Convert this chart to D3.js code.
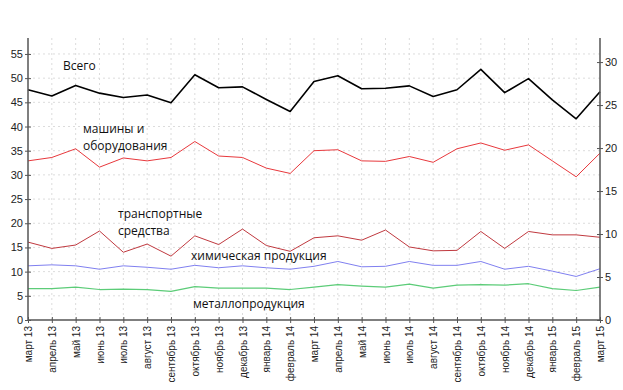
<!DOCTYPE html>
<html>
<head>
<meta charset="utf-8">
<script src="https://cdn.jsdelivr.net/npm/d3@7"></script>
<style>
  body { margin: 0; background: #fff; }
  svg text { font-family: "DejaVu Sans", sans-serif; }
  .lbl { font-family: "Open Sans", sans-serif; font-size: 12px; fill: #111; }
</style>
</head>
<body>
<div id="chart"></div>
<script>
// Months (March 2013 - March 2015)
const months = ['март 13', 'апрель 13', 'май 13', 'июнь 13', 'июль 13', 'август 13', 'сентябрь 13',
  'октябрь 13', 'ноябрь 13', 'декабрь 13', 'январь 14', 'февраль 14', 'март 14', 'апрель 14', 'май 14',
  'июнь 14', 'июль 14', 'август 14', 'сентябрь 14', 'октябрь 14', 'ноябрь 14', 'декабрь 14',
  'январь 15', 'февраль 15', 'март 15'];

const total = [47.6, 46.3, 48.5, 46.9, 46.0, 46.5, 44.9, 50.7, 48.0, 48.2, 45.6, 43.1, 49.3,
  50.5, 47.8, 47.9, 48.4, 46.2, 47.6, 51.8, 47.0, 49.9, 45.5, 41.6, 47.2];
const machines = [32.9, 33.6, 35.4, 31.6, 33.5, 32.9, 33.6, 36.9, 33.9, 33.6, 31.4, 30.3, 35.0,
  35.2, 32.9, 32.8, 33.8, 32.6, 35.4, 36.6, 35.1, 36.2, 32.9, 29.6, 34.5];
const transport = [16.1, 14.8, 15.5, 18.4, 14.0, 15.7, 13.2, 17.4, 15.6, 18.8, 15.4, 14.2, 17.0,
  17.4, 16.5, 18.6, 15.1, 14.3, 14.4, 18.3, 14.8, 18.3, 17.6, 17.6, 17.1];
const chemical = [11.2, 11.4, 11.2, 10.5, 11.2, 10.9, 10.5, 11.3, 10.8, 11.2, 10.8, 10.5, 11.1,
  12.1, 11.0, 11.1, 12.1, 11.3, 11.3, 12.1, 10.5, 11.1, 10.1, 9.0, 10.6];
const metal = [6.5, 6.5, 6.8, 6.3, 6.4, 6.3, 5.9, 6.9, 6.6, 6.6, 6.6, 6.3, 6.8,
  7.3, 7.0, 6.8, 7.4, 6.6, 7.2, 7.3, 7.2, 7.5, 6.5, 6.1, 6.8];

const leftTicks = [0, 5, 10, 15, 20, 25, 30, 35, 40, 45, 50, 55];
const rightTicks = [0, 5, 10, 15, 20, 25, 30];

const series = [
  { name: 'Всего', values: total, color: '#000000', width: 1.6 },
  { name: 'машины и оборудования', values: machines, color: '#e8383c', width: 1 },
  { name: 'транспортные средства', values: transport, color: '#c0393f', width: 1 },
  { name: 'химическая продукция', values: chemical, color: '#8080f0', width: 1 },
  { name: 'металлопродукция', values: metal, color: '#5ccc78', width: 1.2 }
];

const labels = [
  { lines: ['Всего'], x: 63, y: 70 },
  { lines: ['машины и', 'оборудования'], x: 83, y: 133 },
  { lines: ['транспортные', 'средства'], x: 118, y: 218 },
  { lines: ['химическая продукция'], x: 191, y: 260 },
  { lines: ['металлопродукция'], x: 193, y: 308 }
];

const width = 623, height = 390;
const plot = { left: 28, right: 600, top: 38, bottom: 320 };

const svg = d3.select('#chart').append('svg')
  .attr('width', width)
  .attr('height', height);

const x = d3.scalePoint()
  .domain(months)
  .range([plot.left, plot.right]);

const y = d3.scaleLinear()
  .domain([0, 58.3])
  .range([plot.bottom, plot.top]);

const y2 = d3.scaleLinear()
  .domain([0, 32.8])
  .range([plot.bottom, plot.top]);

// Grid
svg.append('g')
  .selectAll('line')
  .data(months.slice(1, -1))
  .enter().append('line')
  .attr('x1', d => x(d)).attr('x2', d => x(d))
  .attr('y1', plot.top).attr('y2', plot.bottom)
  .attr('stroke', '#dcdcdc')
  .attr('stroke-dasharray', '2,3');

svg.append('g')
  .selectAll('line')
  .data(leftTicks.slice(1))
  .enter().append('line')
  .attr('x1', plot.left).attr('x2', plot.right)
  .attr('y1', d => y(d)).attr('y2', d => y(d))
  .attr('stroke', '#dcdcdc')
  .attr('stroke-dasharray', '2,3');

// Lines
const line = d3.line()
  .x((d, i) => x(months[i]))
  .y(d => y(d));

svg.selectAll('.series')
  .data(series)
  .enter().append('path')
  .attr('class', 'series')
  .attr('fill', 'none')
  .attr('stroke', d => d.color)
  .attr('stroke-width', d => d.width)
  .attr('stroke-linejoin', 'round')
  .attr('d', d => line(d.values));

// Axes
const axisColor = '#555';

const gLeft = svg.append('g')
  .attr('transform', `translate(${plot.left},0)`)
  .call(d3.axisLeft(y).tickValues(leftTicks).tickSize(3).tickPadding(2));

const gRight = svg.append('g')
  .attr('transform', `translate(${plot.right},0)`)
  .call(d3.axisRight(y2).tickValues(rightTicks).tickSize(3).tickPadding(2));

const gBottom = svg.append('g')
  .attr('transform', `translate(0,${plot.bottom})`)
  .call(d3.axisBottom(x).tickSize(3).tickPadding(4));

[gLeft, gRight, gBottom].forEach(g => {
  g.select('.domain').attr('stroke', axisColor).attr('stroke-width', 1.5);
  g.selectAll('.tick line').attr('stroke', axisColor);
  g.selectAll('.tick text').attr('fill', '#222')
    .style('font-family', '"Liberation Sans", sans-serif')
    .style('font-size', '11px');
});

// ticks crossing the axis
gLeft.selectAll('.tick line').attr('x2', 3).attr('x1', -3);
gRight.selectAll('.tick line').attr('x1', -3).attr('x2', 3);
gBottom.selectAll('.tick line').attr('y1', -3).attr('y2', 3);

gLeft.select('.domain').attr('d', `M0,${plot.bottom}V${plot.top}`);
gRight.select('.domain').attr('d', `M0,${plot.bottom}V${plot.top}`);
gBottom.select('.domain').attr('d', `M${plot.left},0H${plot.right}`);

gBottom.selectAll('.tick text')
  .style('font-size', '10px')
  .attr('transform', 'rotate(-90)')
  .attr('text-anchor', 'end')
  .attr('x', -6)
  .attr('y', 0)
  .attr('dy', '0.35em');

// Series labels
labels.forEach(l => {
  const t = svg.append('text')
    .attr('class', 'lbl')
    .attr('x', l.x)
    .attr('y', l.y);
  l.lines.forEach((s, i) => {
    t.append('tspan')
      .attr('x', l.x)
      .attr('dy', i === 0 ? 0 : 17)
      .text(s);
  });
});
</script>
</body>
</html>
